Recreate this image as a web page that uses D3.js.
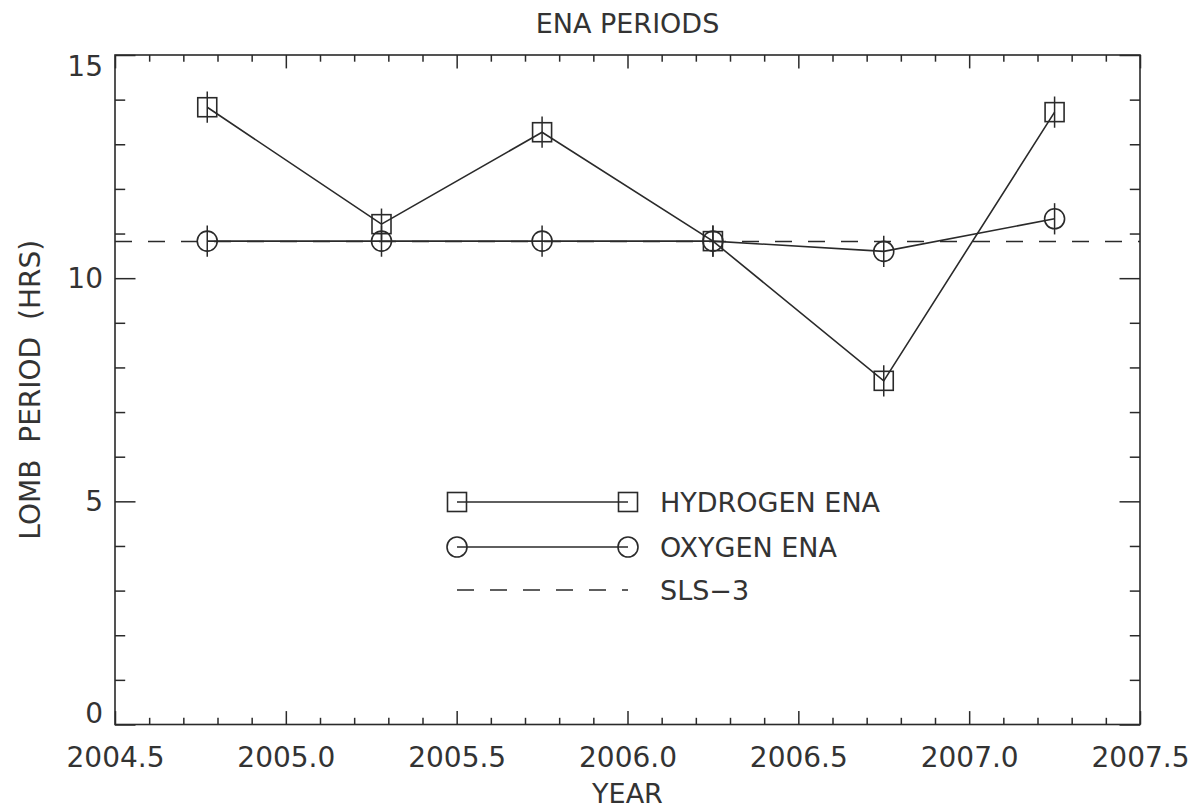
<!DOCTYPE html>
<html>
<head>
<meta charset="utf-8">
<script src="https://cdn.jsdelivr.net/npm/d3@7"></script>
<style>
  html, body { margin: 0; padding: 0; background: #fff; }
  svg text { font-family: "DejaVu Sans", "Liberation Sans", sans-serif; fill: #333; }
</style>
</head>
<body>
<svg id="chart" width="1196" height="808"></svg>
<script>
// Observation epochs (decimal year)
const years = [2004.77, 2005.28, 2005.75, 2006.25, 2006.75, 2007.25];
// Lomb periodogram peak periods (hours)
const hydrogen = [13.83, 11.21, 13.27, 10.83, 7.7, 13.72];
const oxygen = [10.83, 10.83, 10.83, 10.83, 10.6, 11.33];
// Uncertainty on each period (hours)
const hydrogenErr = [0.35, 0.35, 0.35, 0.35, 0.35, 0.35];
const oxygenErr = [0.35, 0.35, 0.35, 0.35, 0.35, 0.35];
// SLS-3 reference period (hours)
const sls3 = 10.82;
// Axis ticks
const xTicks = [2004.5, 2005.0, 2005.5, 2006.0, 2006.5, 2007.0, 2007.5];
const yTicks = [0, 5, 10, 15];
const seriesNames = ["HYDROGEN ENA", "OXYGEN ENA", "SLS\u22123"];

const svg = d3.select("#chart");
const ink = "#2a2a2a";
const textInk = "#333";
const plotL = 115, plotR = 1140, plotT = 55, plotB = 724.5;

const x = d3.scaleLinear().domain([2004.5, 2007.5]).range([plotL, plotR]);
const y = d3.scaleLinear().domain([0, 15]).range([plotB, plotT]);

const xMinor = d3.range(2004.5, 2007.5001, 0.1).map(v => +v.toFixed(1)).filter(v => !xTicks.includes(v));
const yMinor = d3.range(0, 15.001, 1).filter(v => !yTicks.includes(v));

const xMajLen = 13.4, xMinLen = 6.7, yMajLen = 20.5, yMinLen = 10.2;

function styleAxis(g) {
  g.select(".domain").remove();
  g.selectAll(".tick line").attr("stroke", ink).attr("stroke-width", 1.5);
}

// bottom axis (labels) and top axis (ticks only), ticks pointing inward
svg.append("g").attr("transform", `translate(0,${plotB})`)
  .call(d3.axisBottom(x).tickValues(xTicks).tickSize(-xMajLen).tickPadding(23).tickFormat(d3.format(".1f")))
  .call(styleAxis)
  .call(g => g.selectAll("text").attr("font-size", 28).attr("fill", textInk));
svg.append("g").attr("transform", `translate(0,${plotB})`)
  .call(d3.axisBottom(x).tickValues(xMinor).tickSize(-xMinLen).tickFormat(""))
  .call(styleAxis);
svg.append("g").attr("transform", `translate(0,${plotT})`)
  .call(d3.axisTop(x).tickValues(xTicks).tickSize(-xMajLen).tickFormat(""))
  .call(styleAxis);
svg.append("g").attr("transform", `translate(0,${plotT})`)
  .call(d3.axisTop(x).tickValues(xMinor).tickSize(-xMinLen).tickFormat(""))
  .call(styleAxis);

// left axis (labels) and right axis (ticks only)
svg.append("g").attr("transform", `translate(${plotL},0)`)
  .call(d3.axisLeft(y).tickValues(yTicks).tickSize(-yMajLen).tickPadding(12).tickFormat(d3.format("d")))
  .call(styleAxis)
  .call(g => g.selectAll("text").attr("font-size", 28).attr("fill", textInk)
    .attr("dy", d => d === 15 ? "0.72em" : d === 0 ? "-0.08em" : "0.32em"));
svg.append("g").attr("transform", `translate(${plotL},0)`)
  .call(d3.axisLeft(y).tickValues(yMinor).tickSize(-yMinLen).tickFormat(""))
  .call(styleAxis);
svg.append("g").attr("transform", `translate(${plotR},0)`)
  .call(d3.axisRight(y).tickValues(yTicks).tickSize(-yMajLen).tickFormat(""))
  .call(styleAxis);
svg.append("g").attr("transform", `translate(${plotR},0)`)
  .call(d3.axisRight(y).tickValues(yMinor).tickSize(-yMinLen).tickFormat(""))
  .call(styleAxis);

// plot frame
svg.append("rect")
  .attr("x", plotL).attr("y", plotT)
  .attr("width", plotR - plotL).attr("height", plotB - plotT)
  .attr("fill", "none").attr("stroke", ink).attr("stroke-width", 1.6);

// titles
svg.append("text").attr("x", (plotL + plotR) / 2).attr("y", 33)
  .attr("text-anchor", "middle").attr("font-size", 27).text("ENA PERIODS");
svg.append("text").attr("x", (plotL + plotR) / 2).attr("y", 803)
  .attr("text-anchor", "middle").attr("font-size", 27).text("YEAR");
svg.append("text")
  .attr("transform", `translate(40,${(plotT + plotB) / 2}) rotate(-90)`)
  .attr("text-anchor", "middle").attr("font-size", 28).attr("word-spacing", 8)
  .text("LOMB PERIOD (HRS)");

// SLS-3 dashed reference line
svg.append("line")
  .attr("x1", x(2004.5)).attr("x2", x(2007.5))
  .attr("y1", y(sls3)).attr("y2", y(sls3))
  .attr("stroke", ink).attr("stroke-width", 1.5).attr("stroke-dasharray", "17 16");

const line = d3.line().x(d => x(d[0])).y(d => y(d[1]));
const half = 9.5, rad = 10;

function drawSeries(vals, errs, shape) {
  const pts = years.map((yr, i) => [yr, vals[i], errs[i]]);
  svg.append("path").datum(pts).attr("d", line)
    .attr("fill", "none").attr("stroke", ink).attr("stroke-width", 1.6);
  const g = svg.append("g");
  g.selectAll("line.err").data(pts).join("line").attr("class", "err")
    .attr("x1", d => x(d[0])).attr("x2", d => x(d[0]))
    .attr("y1", d => y(d[1] - d[2])).attr("y2", d => y(d[1] + d[2]))
    .attr("stroke", ink).attr("stroke-width", 1.5);
  if (shape === "square") {
    g.selectAll("rect").data(pts).join("rect")
      .attr("x", d => x(d[0]) - half).attr("y", d => y(d[1]) - half)
      .attr("width", 2 * half).attr("height", 2 * half)
      .attr("fill", "none").attr("stroke", ink).attr("stroke-width", 1.6);
  } else {
    g.selectAll("circle").data(pts).join("circle")
      .attr("cx", d => x(d[0])).attr("cy", d => y(d[1])).attr("r", rad)
      .attr("fill", "none").attr("stroke", ink).attr("stroke-width", 1.6);
  }
}
drawSeries(oxygen, oxygenErr, "circle");
drawSeries(hydrogen, hydrogenErr, "square");

// legend
const lgX1 = 457, lgX2 = 628, lgRows = [502, 547, 590], lgText = 660;
const leg = svg.append("g");
lgRows.forEach((ry, i) => {
  leg.append("line").attr("x1", lgX1).attr("x2", lgX2).attr("y1", ry).attr("y2", ry)
    .attr("stroke", ink).attr("stroke-width", 1.5)
    .attr("stroke-dasharray", i === 2 ? "17 16" : null);
  if (i === 0) {
    [lgX1, lgX2].forEach(cx => leg.append("rect")
      .attr("x", cx - half).attr("y", ry - half).attr("width", 2 * half).attr("height", 2 * half)
      .attr("fill", "none").attr("stroke", ink).attr("stroke-width", 1.6));
  } else if (i === 1) {
    [lgX1, lgX2].forEach(cx => leg.append("circle")
      .attr("cx", cx).attr("cy", ry).attr("r", rad)
      .attr("fill", "none").attr("stroke", ink).attr("stroke-width", 1.6));
  }
  leg.append("text").attr("x", lgText).attr("y", ry).attr("dy", "0.36em")
    .attr("font-size", 27).text(seriesNames[i]);
});
</script>
</body>
</html>
